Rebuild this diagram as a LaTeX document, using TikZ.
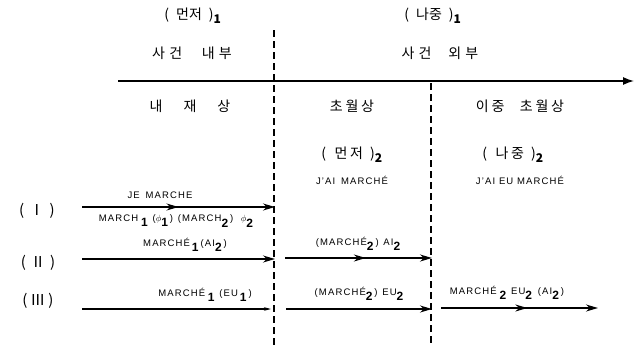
\documentclass[tikz,border=0pt]{standalone}
\usepackage{fontspec}
\setmainfont{Liberation Sans}
\newfontfamily\kr{Noto Sans CJK KR}
\usetikzlibrary{arrows.meta,decorations.markings}
\tikzset{
  kor/.style={font=\kr\fontsize{14}{15}\selectfont, inner sep=0pt},
  lab/.style={font=\fontsize{9.5}{10}\selectfont\addfontfeature{LetterSpace=12}, inner sep=0pt},
  rom/.style={font=\kr\fontsize{15}{16}\selectfont, inner sep=0pt},
  tipped/.style={line width=1.5pt, -{Stealth[length=12pt,width=7pt]}},
  midarr/.style={postaction={decorate,decoration={markings,mark=at position #1 with {\arrow{Stealth[length=12pt,width=7pt]}}}}},
  divider/.style={line width=1.2pt, dash pattern=on 7pt off 4pt},
}
\newcommand{\sbs}[1]{\textsubscript{\textbf{\fontsize{12}{12}\selectfont #1}}}
\newcommand{\gap}[1][0.5em]{\hspace{#1}}
\begin{document}
\begin{tikzpicture}[x=1pt,y=-1pt]
\useasboundingbox (0,0) rectangle (635,348);
% headers
\node[kor] (f1) at (193,16) {(\gap 먼저\gap )\sbs{1}};
\node[kor] (l1) at (433,16) {(\gap 나중\gap )\sbs{1}};
\node[kor] (in) at (192,53) {사\gap[0.3em]건\gap[1.4em]내\gap[0.3em]부};
\node[kor] (out) at (440,53) {사\gap[0.3em]건\gap[1.2em]외\gap[0.3em]부};
% axis
\coordinate (a0) at (118,81);
\coordinate (a1) at (634,81);
\draw[line width=1.4pt,-{Latex[length=11pt,width=8pt]}] (a0) -- (a1);
% dividers
\coordinate (d1t) at (274,30);
\coordinate (d1b) at (274,346);
\coordinate (d2t) at (431,83);
\coordinate (d2b) at (431,346);
\draw[divider] (d1t) -- (d1b);
\draw[divider] (d2t) -- (d2b);
% aspect labels
\node[kor] (asp1) at (190,106) {내\gap[1.5em]재\gap[1.5em]상};
\node[kor] (asp2) at (352,106) {초\gap[0.2em]월\gap[0.2em]상};
\node[kor] (asp3) at (520,106) {이\gap[0.2em]중\gap[1.1em]초\gap[0.2em]월\gap[0.2em]상};
\node[kor] (f2) at (352,155) {(\gap[0.6em]먼\gap[0.2em]저\gap[0.5em])\sbs{2}};
\node[kor] (l2) at (513,155) {(\gap[0.6em]나\gap[0.2em]중\gap[0.5em])\sbs{2}};
\node[lab] (jm) at (352,180) {J'AI\gap[0.6em]MARCHÉ};
\node[lab] (jem) at (520,180) {J'AI EU MARCHÉ};
% row labels
\node[rom] (r1) at (37,211) {(\gap[0.35em]Ⅰ\gap[0.35em])};
\node[rom] (r2) at (38,263) {(\gap[0.3em]Ⅱ\gap[0.3em])};
\node[rom] (r3) at (38,301) {(\gap[0.2em]Ⅲ\gap[0.2em])};
% row I
\coordinate (p1a) at (82,207);
\coordinate (p1b) at (275,207);
\draw[tipped, midarr=0.5] (p1a) -- (p1b);
\node[lab] (t1a) at (160,195) {JE\gap[0.6em]MARCHE};
\node[lab] (t1b) at (177,221) {MARCH\gap[0.3em]\sbs{1}\gap[0.3em]($\phi$\sbs{1})\gap[0.5em](MARCH\sbs{2})\gap[0.8em]$\phi$\sbs{2}};
% row II
\coordinate (p2a) at (82,259);
\coordinate (p2b) at (275,259);
\draw[tipped] (p2a) -- (p2b);
\node[lab] (t2a) at (185,245) {MARCHÉ\gap[0.2em]\sbs{1}(AI\sbs{2})};
\coordinate (p2c) at (285,258);
\coordinate (p2d) at (432,258);
\draw[tipped, midarr=0.55] (p2c) -- (p2d);
\node[lab] (t2b) at (359,244) {(MARCHÉ\sbs{2})\gap[0.5em]AI\sbs{2}};
% row III
\coordinate (p3a) at (82,309);
\coordinate (p3b) at (271,309);
\draw[line width=1.3pt,-{Stealth[length=7pt,width=3.5pt]}] (p3a) -- (p3b);
\node[lab] (t3a) at (205,295) {MARCHÉ\gap[0.3em]\sbs{1}\gap[0.3em](EU\gap[0.2em]\sbs{1})};
\coordinate (p3c) at (286,309);
\coordinate (p3d) at (432,309);
\draw[tipped] (p3c) -- (p3d);
\node[lab] (t3b) at (360,294) {(MARCHÉ\sbs{2})\gap[0.5em]EU\sbs{2}};
\coordinate (p3e) at (441,308);
\coordinate (p3f) at (598,308);
\draw[tipped, midarr=0.55] (p3e) -- (p3f);
\node[lab] (t3c) at (507,293) {MARCHÉ\gap[0.3em]\sbs{2}\gap[0.3em]EU\sbs{2}\gap[0.4em](AI\sbs{2})};
\end{tikzpicture}
\end{document}
